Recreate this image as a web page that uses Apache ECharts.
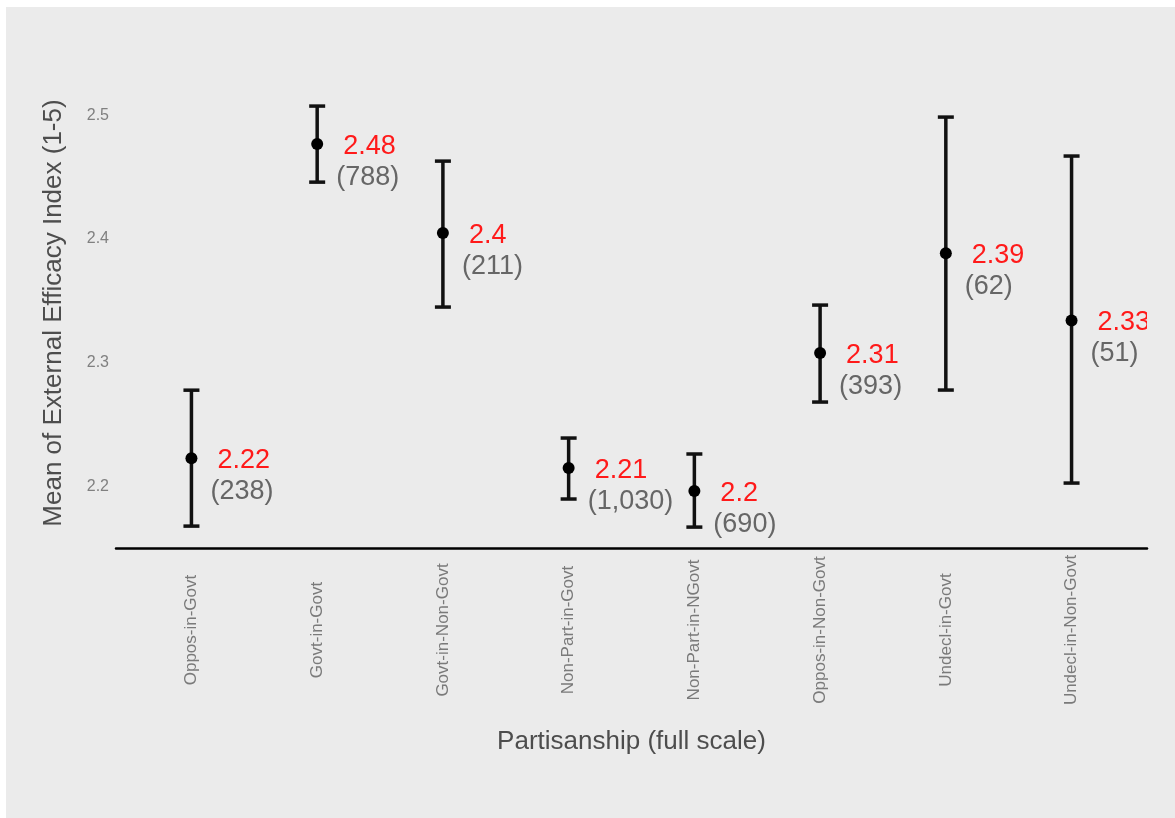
<!DOCTYPE html>
<html>
<head>
<meta charset="utf-8">
<script src="https://cdn.jsdelivr.net/npm/echarts@6/dist/echarts.min.js"></script>
<style>
  html, body { margin: 0; padding: 0; background: #ffffff; }
  #panel { position: absolute; left: 6px; top: 7px; width: 1169px; height: 811px; background: #ebebeb; }
  #chart { position: absolute; left: 0; top: 0; width: 1175px; height: 818px; }
</style>
</head>
<body>
<div id="panel"></div>
<div id="chart"></div>
<script>
// Partisanship groups along the x axis
const categories = [
  'Oppos-in-Govt', 'Govt-in-Govt', 'Govt-in-Non-Govt', 'Non-Part-in-Govt',
  'Non-Part-in-NGovt', 'Oppos-in-Non-Govt', 'Undecl-in-Govt', 'Undecl-in-Non-Govt'
];
// Group means of the external efficacy index and their interval bounds
const means  = [2.2226, 2.4766, 2.4046, 2.2146, 2.1960, 2.3076, 2.3884, 2.3340];
const lowers = [2.1677, 2.4458, 2.3448, 2.1896, 2.1669, 2.2680, 2.2777, 2.2025];
const uppers = [2.2776, 2.5073, 2.4628, 2.2389, 2.2260, 2.3464, 2.4984, 2.4669];
// Respondents per group
const counts = [238, 788, 211, 1030, 690, 393, 62, 51];
// Y axis tick values
const yTicks = [2.2, 2.3, 2.4, 2.5];

const FONT = '"Liberation Sans", Arial, Helvetica, sans-serif';

const seriesData = categories.map((c, i) => [i + 1, means[i], lowers[i], uppers[i], counts[i]]);

function fmtMean(v) {
  return String(Math.round(v * 100) / 100);
}

// Error bar with end caps, a dot at the mean, the rounded mean in red and the group size below it
function renderErrorBar(params, api) {
  const x = api.value(0);
  const m = api.value(1);
  const lo = api.value(2);
  const hi = api.value(3);
  const n = api.value(4);
  const pM = api.coord([x, m]);
  const pLo = api.coord([x, lo]);
  const pHi = api.coord([x, hi]);
  const cap = 8;
  const barStyle = { stroke: '#111111', lineWidth: 3.5 };
  return {
    type: 'group',
    children: [
      { type: 'line', shape: { x1: pLo[0], y1: pLo[1], x2: pHi[0], y2: pHi[1] }, style: barStyle },
      { type: 'line', shape: { x1: pHi[0] - cap, y1: pHi[1], x2: pHi[0] + cap, y2: pHi[1] }, style: barStyle },
      { type: 'line', shape: { x1: pLo[0] - cap, y1: pLo[1], x2: pLo[0] + cap, y2: pLo[1] }, style: barStyle },
      { type: 'circle', shape: { cx: pM[0], cy: pM[1], r: 6 }, style: { fill: '#000000' } },
      {
        type: 'text', x: pM[0] + 26, y: pM[1] + 2,
        style: { text: fmtMean(m), fill: '#ff1a1a', fontSize: 27, fontFamily: FONT, align: 'left', verticalAlign: 'middle' }
      },
      {
        type: 'text', x: pM[0] + 19, y: pM[1] + 33,
        style: { text: '(' + Number(n).toLocaleString('en-US') + ')', fill: '#666666', fontSize: 27, fontFamily: FONT, align: 'left', verticalAlign: 'middle' }
      }
    ]
  };
}

const chart = echarts.init(document.getElementById('chart'), null, { renderer: 'canvas' });

chart.setOption({
  backgroundColor: 'transparent',
  animation: false,
  grid: { left: 116, right: 28, top: 78, bottom: 270, containLabel: false },
  xAxis: {
    type: 'value',
    min: 0.4,
    max: 8.6,
    name: 'Partisanship (full scale)',
    nameLocation: 'middle',
    nameGap: 181,
    nameTextStyle: { fontSize: 26, color: '#4d4d4d', fontFamily: FONT },
    axisLine: { show: true, onZero: false, lineStyle: { color: '#000000', width: 2.5 } },
    axisTick: { show: false },
    splitLine: { show: false },
    axisLabel: {
      customValues: [1, 2, 3, 4, 5, 6, 7, 8],
      formatter: v => categories[Math.round(v) - 1],
      rotate: 90,
      align: 'center',
      verticalAlign: 'middle',
      margin: 82,
      fontSize: 17,
      color: '#7a7a7a',
      fontFamily: FONT
    }
  },
  yAxis: {
    type: 'value',
    min: 2.15,
    max: 2.53,
    name: 'Mean of External Efficacy Index (1-5)',
    nameLocation: 'middle',
    nameGap: 49,
    nameTextStyle: { fontSize: 26, color: '#4d4d4d', fontFamily: FONT },
    axisLine: { show: false },
    axisTick: { show: false },
    splitLine: { show: false },
    axisLabel: {
      customValues: yTicks,
      formatter: v => v.toFixed(1),
      margin: 7,
      fontSize: 16,
      color: '#808080',
      fontFamily: FONT
    }
  },
  series: [{
    type: 'custom',
    clip: true,
    renderItem: renderErrorBar,
    encode: { x: 0, y: [1, 2, 3] },
    data: seriesData
  }]
});
</script>
</body>
</html>
